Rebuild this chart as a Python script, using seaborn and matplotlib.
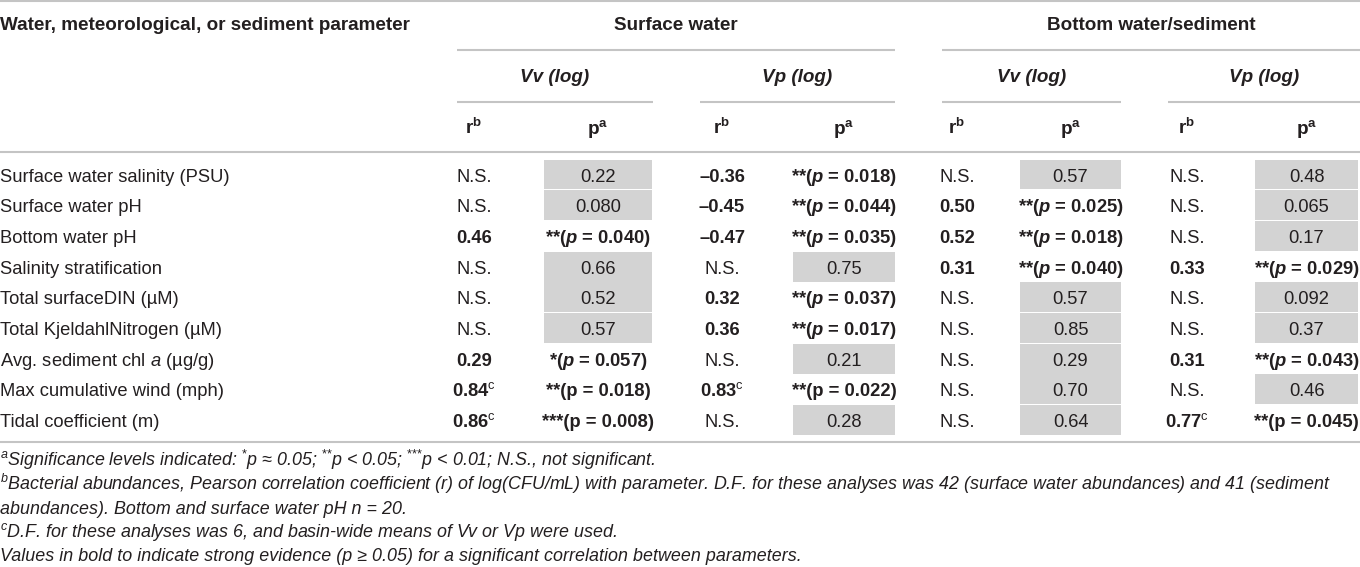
import matplotlib
matplotlib.use("Agg")
import matplotlib.pyplot as plt
import seaborn as sns
from matplotlib.patches import Rectangle

# table content
params = [
    "Surface water salinity (PSU)",
    "Surface water pH",
    "Bottom water pH",
    "Salinity stratification",
    "Total surfaceDIN (µM)",
    "Total KjeldahlNitrogen (µM)",
    r"Avg. sediment chl $\mathit{a}$ (µg/g)",
    "Max cumulative wind (mph)",
    "Tidal coefficient (m)",
]
groups = ["Surface water", "Bottom water/sediment"]
subgroups = ["Vv (log)", "Vp (log)", "Vv (log)", "Vp (log)"]

sw_vv_r = ["N.S.", "N.S.", "0.46", "N.S.", "N.S.", "N.S.", "0.29", "0.84", "0.86"]
sw_vv_p = ["0.22", "0.080", "**(p = 0.040)", "0.66", "0.52", "0.57", "*(p = 0.057)", "**(p = 0.018)", "***(p = 0.008)"]
sw_vp_r = ["–0.36", "–0.45", "–0.47", "N.S.", "0.32", "0.36", "N.S.", "0.83", "N.S."]
sw_vp_p = ["**(p = 0.018)", "**(p = 0.044)", "**(p = 0.035)", "0.75", "**(p = 0.037)", "**(p = 0.017)", "0.21", "**(p = 0.022)", "0.28"]
bw_vv_r = ["N.S.", "0.50", "0.52", "0.31", "N.S.", "N.S.", "N.S.", "N.S.", "N.S."]
bw_vv_p = ["0.57", "**(p = 0.025)", "**(p = 0.018)", "**(p = 0.040)", "0.57", "0.85", "0.29", "0.70", "0.64"]
bw_vp_r = ["N.S.", "N.S.", "N.S.", "0.33", "N.S.", "N.S.", "0.31", "N.S.", "0.77"]
bw_vp_p = ["0.48", "0.065", "0.17", "**(p = 0.029)", "0.092", "0.37", "**(p = 0.043)", "0.46", "**(p = 0.045)"]
basin_rows = [7, 8]  # basin-wide means (footnote c)

footnotes = [
    r"$^{\mathit{a}}$Significance levels indicated: $^{*}$p ≈ 0.05; $^{{*}{*}}$p < 0.05; $^{{*}{*}{*}}$p < 0.01; N.S., not significant.",
    r"$^{\mathit{b}}$Bacterial abundances, Pearson correlation coefficient (r) of log(CFU/mL) with parameter. D.F. for these analyses was 42 (surface water abundances) and 41 (sediment",
    "abundances). Bottom and surface water pH n = 20.",
    r"$^{\mathit{c}}$D.F. for these analyses was 6, and basin-wide means of Vv or Vp were used.",
    "Values in bold to indicate strong evidence (p ≥ 0.05) for a significant correlation between parameters.",
]

r_cols = [sw_vv_r, sw_vp_r, bw_vv_r, bw_vp_r]
p_cols = [sw_vv_p, sw_vp_p, bw_vv_p, bw_vp_p]

# layout (pixels)
spans = [(457, 653), (700, 895), (942, 1121), (1168, 1360)]
r_x = [474, 722, 957, 1187]
p_box = [(544, 652), (793, 895), (1020, 1121), (1255, 1358)]
row0, dy = 175, 30.7
fs = 13.2
fs_head = 13.6
fs_note = 12.85
ink = "#231f20"
rule = "#c4c4c4"
shade = "#d3d3d3"

sns.set_theme(style="white")
plt.rcParams["font.family"] = ["Liberation Sans", "DejaVu Sans"]
plt.rcParams["mathtext.fontset"] = "custom"
plt.rcParams["mathtext.rm"] = "Liberation Sans"
plt.rcParams["mathtext.it"] = "Liberation Sans:italic"
plt.rcParams["mathtext.bf"] = "Liberation Sans:bold"
plt.rcParams["mathtext.bfit"] = "Liberation Sans:bold:italic"

fig = plt.figure(figsize=(13.6, 5.67), dpi=100)
ax = fig.add_axes([0, 0, 1, 1])
ax.set_xlim(0, 1360)
ax.set_ylim(567, 0)
ax.axis("off")


def txt(x, y, s, ha="center", size=fs, **kw):
    ax.text(x, y + 6.5, s, ha=ha, va="baseline", fontsize=size, color=ink, **kw)


def hline(x0, x1, y, lw=1.5):
    ax.plot([x0, x1], [y, y], color=rule, lw=lw, solid_capstyle="butt")


# header
hline(0, 1360, 1)
txt(0, 24, "Water, meteorological, or sediment parameter", ha="left", size=fs_head, fontweight="bold")
txt((spans[0][0] + spans[1][1]) / 2, 24, groups[0], size=fs_head, fontweight="bold")
txt((spans[2][0] + spans[3][1]) / 2, 24, groups[1], size=fs_head, fontweight="bold")
hline(spans[0][0], spans[1][1], 50)
hline(spans[2][0], spans[3][1], 50)
for k, (x0, x1) in enumerate(spans):
    txt((x0 + x1) / 2, 76, subgroups[k], size=fs_head, fontweight="bold", fontstyle="italic")
    hline(x0, x1, 102)
    txt(r_x[k], 127, r"r$^{\mathbf{b}}$", size=fs_head, fontweight="bold")
    txt((p_box[k][0] + p_box[k][1]) / 2, 127, r"p$^{\mathbf{a}}$", size=fs_head, fontweight="bold")
hline(0, 1360, 152)

# body
for i, name in enumerate(params):
    y = row0 + i * dy
    txt(0, y, name, ha="left")
    for k in range(4):
        rv, pv = r_cols[k][i], p_cols[k][i]
        pc = (p_box[k][0] + p_box[k][1]) / 2
        if rv == "N.S.":
            ax.add_patch(Rectangle((p_box[k][0], y - 15.5), p_box[k][1] - p_box[k][0], dy - 0.8,
                                   facecolor=shade, edgecolor="none"))
            txt(r_x[k], y, rv)
            txt(pc, y, pv)
        else:
            if i in basin_rows:
                txt(r_x[k], y, rv + r"$^{\mathrm{c}}$", fontweight="bold")
                txt(pc, y, pv, fontweight="bold")
            else:
                txt(r_x[k], y, rv, fontweight="bold")
                txt(pc, y, pv.replace("(p", r"($\mathbfit{p}$"), fontweight="bold")
hline(0, 1360, 442)

# footnotes
for j, note in enumerate(footnotes):
    ax.text(0, 466 + j * 23.8, note, ha="left", va="baseline", fontsize=fs_note,
            color=ink, fontstyle="italic")

fig.savefig("out.png", dpi=100, facecolor="white")
